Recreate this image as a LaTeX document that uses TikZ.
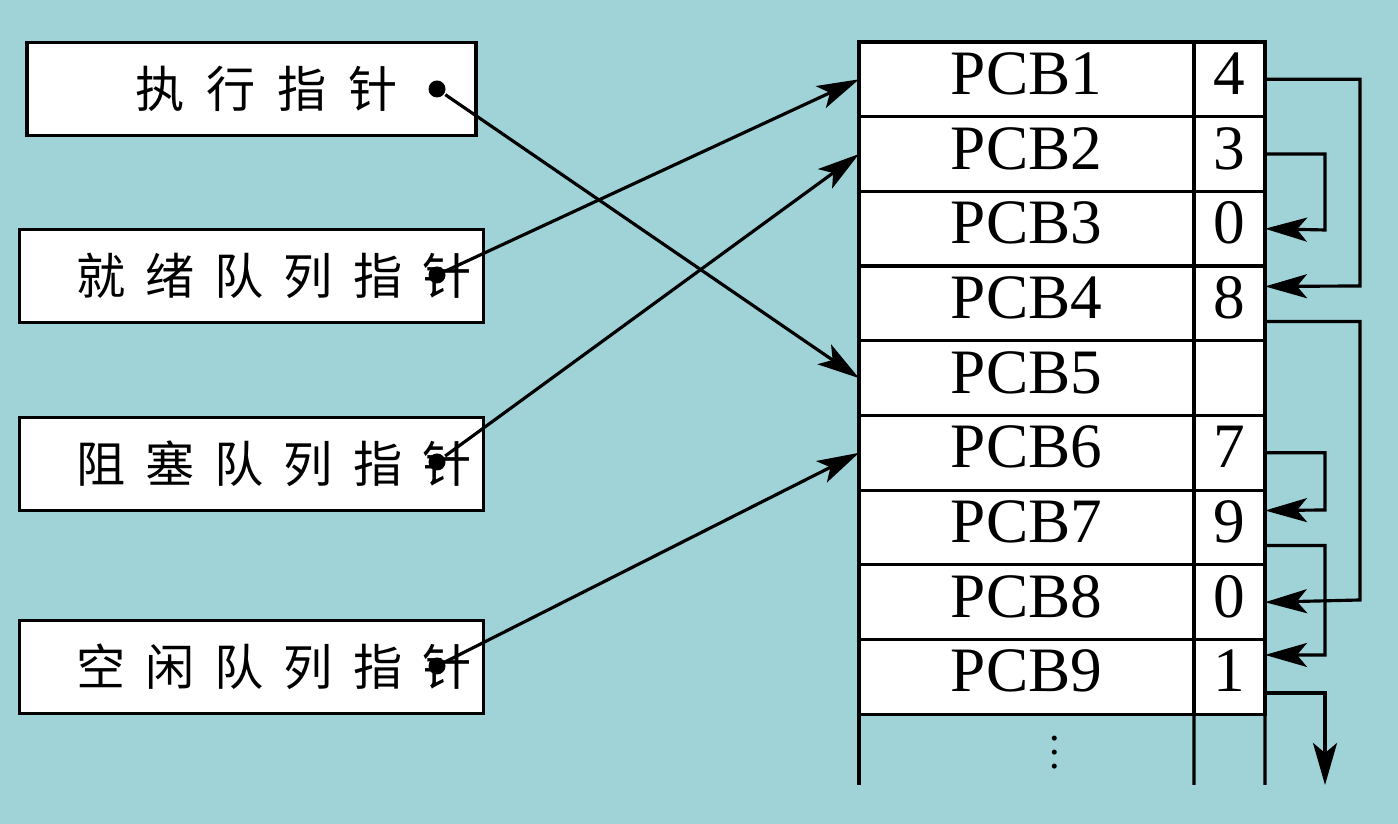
\documentclass[tikz,border=0pt]{standalone}
\usepackage{fontspec}
\setmainfont{Liberation Serif}
\newfontfamily\cjk{Noto Sans CJK SC}
\usetikzlibrary{arrows.meta,positioning}
\definecolor{bgteal}{HTML}{9FD3D7}

\begin{document}
\begin{tikzpicture}[>={Stealth[length=0.42cm,width=0.24cm,inset=0.1cm]}, line width=0.9pt]
    \tikzset{ptr/.style={
      draw, fill=white, rectangle, minimum width=4.49cm, minimum height=0.93cm,
      font=\cjk\fontsize{14}{16}\selectfont, align=center
    }};
    \tikzset{pcb/.style={
      draw, fill=white, rectangle, minimum width=3.35cm, minimum height=0.747cm,
      inner sep=0pt, outer sep=0pt, text height=0.3cm, text depth=0pt,
      font=\fontsize{18}{20}\selectfont
    }};
    \tikzset{num/.style={pcb, minimum width=0.71cm}};
    \tikzset{dot/.style={circle, fill=black, inner sep=0pt, minimum size=0.17cm}};

    \fill[bgteal] (0,0) rectangle (13.98,8.24);
    \useasboundingbox (0,0) rectangle (13.98,8.24);

    % pointer boxes
    \node [ptr] (exec) at (2.515,7.35) {\hspace{0.3cm}执\hspace{0.22cm}行\hspace{0.22cm}指\hspace{0.22cm}针};
    \node [ptr] (ready) at (2.515,5.48) {\hspace{0.45cm}就\hspace{0.2cm}绪\hspace{0.2cm}队\hspace{0.2cm}列\hspace{0.2cm}指\hspace{0.2cm}针};
    \node [ptr] (block) at (2.515,3.60) {\hspace{0.45cm}阻\hspace{0.2cm}塞\hspace{0.2cm}队\hspace{0.2cm}列\hspace{0.2cm}指\hspace{0.2cm}针};
    \node [ptr] (free) at (2.515,1.57) {\hspace{0.45cm}空\hspace{0.2cm}闲\hspace{0.2cm}队\hspace{0.2cm}列\hspace{0.2cm}指\hspace{0.2cm}针};

    \node [dot] (dexec) at (4.37,7.35) {};
    \node [dot] (dready) at (4.37,5.49) {};
    \node [dot] (dblock) at (4.37,3.62) {};
    \node [dot] (dfree) at (4.37,1.58) {};

    % PCB table
    \foreach \i in {1,...,9}
      \node [pcb, anchor=north west] (pcb\i) at (8.59,{7.82-0.747*(\i-1)}) {PCB\i};
    \foreach \i/\n in {1/4,2/3,3/0,4/8,5/,6/7,7/9,8/0,9/1}
      \node [num, right=0pt of pcb\i] (num\i) {\n};
    \node [font=\large] (vdots) at (10.55,0.82) {$\vdots$};

    \coordinate (t1) at (8.59,0.39);
    \coordinate (t2) at (11.94,0.39);
    \coordinate (t3) at (12.65,0.39);
    \draw (pcb9.south west) -- (t1);
    \draw (pcb9.south east) -- (t2);
    \draw (num9.south east) -- (t3);

    % pointers
    \draw[->] (dexec) -- (pcb5.west);
    \draw[->] (dready) -- (pcb1.west);
    \draw[->] (dblock) -- (pcb2.west);
    \draw[->] (dfree) -- (pcb6.west);

    % links
    \draw[->] (num1.east) -| (13.60,5.38) -- ([yshift=0.17cm]num4.east);
    \draw[->] (num2.east) -| (13.25,5.94) -- (num3.east);
    \draw[->] ([yshift=-0.18cm]num4.east) -| (13.60,2.24) -- (num8.east);
    \draw[->] (num6.east) -| (13.25,3.14) -- ([yshift=0.17cm]num7.east);
    \draw[->] ([yshift=-0.18cm]num7.east) -| (13.25,1.69) -- ([yshift=0.22cm]num9.east);
    \coordinate (tail) at (13.25,0.39);
    \draw[->] ([yshift=-0.16cm]num9.east) -| (tail);
\end{tikzpicture}
\end{document}
